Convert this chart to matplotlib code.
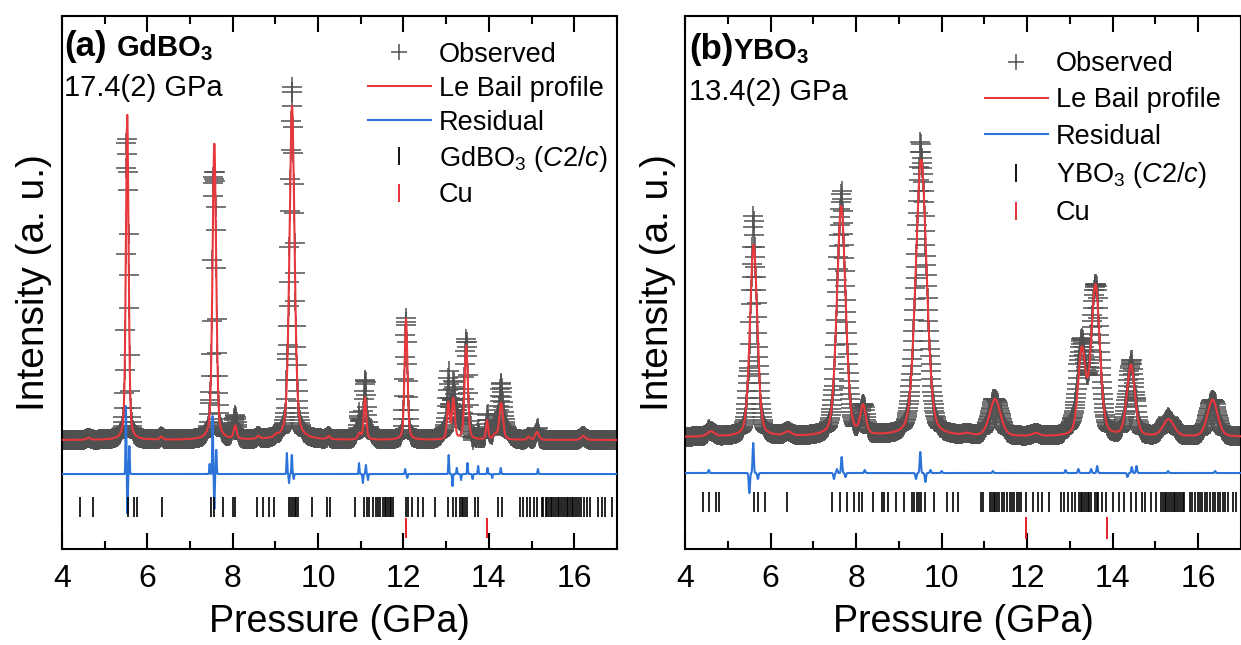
import numpy as np
import matplotlib
matplotlib.use("Agg")
import matplotlib.pyplot as plt
from matplotlib.lines import Line2D
from matplotlib.ticker import MultipleLocator

plt.rcParams['font.family'] = ['Liberation Sans', 'DejaVu Sans']
plt.rcParams['mathtext.fontset'] = 'custom'
plt.rcParams['mathtext.rm'] = 'Liberation Sans'
plt.rcParams['mathtext.it'] = 'Liberation Sans:italic'
plt.rcParams['mathtext.bf'] = 'Liberation Sans:bold'

# scan grid (GPa axis as labelled in the figure)
x_start, x_stop, x_step = 4.0, 17.0, 0.01

# ---- (a) GdBO3, 17.4(2) GPa : Le Bail peaks ----
gd_background = 109
gd_peak_pos = [4.62, 5.53, 6.33, 7.57, 8.06, 8.60, 9.02, 9.39, 10.25, 10.97, 11.10,
               12.06, 13.05, 13.17, 13.47, 13.96, 14.15, 14.29, 14.93, 15.13, 16.21]
gd_peak_height = [2, 325, 3, 296, 13, 3, 2, 334, 3, 6, 42,
                  121, 36, 40, 94, 19, 5, 37, 3, 8, 4]
gd_peak_fwhm = [0.10, 0.075, 0.08, 0.10, 0.08, 0.08, 0.08, 0.14, 0.08, 0.08, 0.07,
                0.08, 0.07, 0.08, 0.09, 0.06, 0.10, 0.10, 0.08, 0.10, 0.12]
# broad intensity in the observed scan that the sharp fitted peaks leave out
gd_hump_pos = [8.05, 11.08, 13.20, 14.28]
gd_hump_height = [10, 16, 18, 15]
gd_hump_fwhm = [0.15, 0.30, 0.45, 0.35]
gd_res_offset = 75
gd_res_pos = [5.50, 5.535, 5.58, 7.46, 7.53, 7.57, 7.615,
              9.27, 9.32, 9.385, 9.43, 10.96, 11.05, 11.12, 11.17, 12.04, 12.09,
              13.06, 13.15, 13.25, 13.35, 13.50, 13.62, 13.75, 13.97, 14.08, 14.28, 15.15]
gd_res_amp = [68, -46, 28, 10, 58, -35, 28,
              21, -9, 22, -5, 11, -9, 9, -6, 5, -4,
              19, -12, 6, -6, 11, -5, 8, 6, -4, 6, 5]
gd_hkl = [4.42, 4.72, 5.54, 5.69, 5.75, 6.34, 7.49, 7.57, 7.78, 8.00, 8.06, 8.58, 8.72,
          8.85, 8.97, 9.33, 9.37, 9.41, 9.45, 9.49, 9.52, 9.85, 10.20, 10.28, 10.86,
          11.08, 11.14, 11.19, 11.29, 11.35, 11.41, 11.46, 11.52, 11.56, 11.60, 11.64,
          11.68, 11.72, 11.76, 12.06, 12.11, 12.19, 12.35, 12.46, 12.74, 13.05, 13.17,
          13.23, 13.32, 13.36, 13.40, 13.44, 13.48, 13.67, 13.75, 14.22, 14.30, 14.74,
          14.81, 14.90, 14.96, 15.06, 15.12, 15.24, 15.28, 15.33, 15.37, 15.41, 15.45,
          15.49, 15.53, 15.57, 15.61, 15.65, 15.70, 15.74, 15.78, 15.82, 15.86, 15.90,
          15.94, 15.98, 16.03, 16.07, 16.12, 16.17, 16.23, 16.30, 16.38, 16.56, 16.64,
          16.72, 16.88]
gd_cu = [12.07, 13.95]

# ---- (b) YBO3, 13.4(2) GPa ----
y_background = 112
y_peak_pos = [4.60, 5.60, 6.40, 7.65, 8.16, 9.52, 10.60, 11.25, 12.20,
              13.28, 13.60, 14.43, 15.31, 16.34]
y_peak_height = [5, 192, 4, 230, 28, 277, 2, 37, 3, 84, 150, 71, 17, 37]
y_peak_fwhm = [0.20, 0.20, 0.20, 0.24, 0.15, 0.30, 0.20, 0.30, 0.20,
               0.20, 0.24, 0.22, 0.30, 0.28]
y_hump_pos = [13.15]
y_hump_height = [12]
y_hump_fwhm = [0.35]
y_res_offset = 76
y_res_pos = [4.55, 5.50, 5.59, 5.70, 7.48, 7.55, 7.66, 7.75, 8.20, 9.40, 9.50, 9.62,
             9.74, 10.00, 11.20, 12.90, 13.20, 13.50, 13.64, 14.35, 14.45, 14.56,
             15.30, 16.40]
y_res_amp = [3, -20, 30, -6, -6, 4, 16, -4, 3, -6, 21, -9,
             3, 2, 2, 3, 4, 4, 7, -4, 6, 7, 2, 2]
y_hkl = [4.42, 4.56, 4.73, 4.79, 5.61, 5.71, 5.86, 6.38, 7.44, 7.63, 7.79, 7.94, 8.07,
         8.14, 8.39, 8.60, 8.65, 8.74, 8.94, 9.13, 9.30, 9.36, 9.42, 9.47, 9.52, 9.60,
         9.82, 10.13, 10.26, 10.39, 10.91, 10.96, 11.12, 11.17, 11.22, 11.26, 11.30,
         11.35, 11.41, 11.47, 11.53, 11.59, 11.64, 11.70, 11.77, 11.82, 11.86, 11.98,
         12.13, 12.25, 12.36, 12.52, 12.79, 12.87, 12.96, 13.04, 13.12, 13.21, 13.25,
         13.29, 13.33, 13.38, 13.42, 13.46, 13.50, 13.58, 13.63, 13.67, 13.75, 13.84,
         14.01, 14.14, 14.26, 14.43, 14.55, 14.68, 14.76, 14.89, 15.01, 15.14, 15.18,
         15.22, 15.26, 15.30, 15.35, 15.39, 15.43, 15.47, 15.51, 15.56, 15.60, 15.64,
         15.68, 15.81, 15.87, 15.93, 15.99, 16.04, 16.10, 16.16, 16.22, 16.28, 16.34,
         16.40, 16.46, 16.52, 16.58, 16.64, 16.69, 16.82, 16.90]
y_cu = [11.98, 13.87]


def pseudo_voigt(x, pos, height, fwhm, eta):
    out = np.zeros_like(x)
    for p, h, w in zip(pos, height, fwhm):
        u = (x - p) / w
        out += h * (eta / (1 + 4 * u**2) + (1 - eta) * np.exp(-4 * np.log(2) * u**2))
    return out


def spikes(x, pos, amp, sigma):
    out = np.zeros_like(x)
    for p, a in zip(pos, amp):
        out += a * np.exp(-0.5 * ((x - p) / sigma)**2)
    return out


x = np.arange(x_start, x_stop + x_step / 2, x_step)

C_OBS = '#505050'
C_CALC = '#e8383d'
C_RES = '#2b73d9'
C_CU = '#e3202a'

fig = plt.figure(figsize=(12.41, 6.45), dpi=100)
ax_a = fig.add_axes([0.0499, 0.1488, 0.4472, 0.8264])
ax_b = fig.add_axes([0.5522, 0.1488, 0.4476, 0.8264])

panels = [
    (ax_a, gd_background, gd_peak_pos, gd_peak_height, gd_peak_fwhm, 0.4,
     (gd_hump_pos, gd_hump_height, gd_hump_fwhm), 0.009,
     gd_res_offset, gd_res_pos, gd_res_amp, gd_hkl, gd_cu, (32, 52), (11, 31),
     '(a)', r'GdBO$_\mathbf{3}$', '17.4(2) GPa', r'GdBO$_3$ ($\mathit{C2/c}$)',
     (0.004, 0.925, 0.0975, 0.85), (0.552, 0.952), 0.30),
    (ax_b, y_background, y_peak_pos, y_peak_height, y_peak_fwhm, 0.3,
     (y_hump_pos, y_hump_height, y_hump_fwhm), 0.014,
     y_res_offset, y_res_pos, y_res_amp, y_hkl, y_cu, (37, 57), (10, 32),
     '(b)', r'YBO$_\mathbf{3}$', '13.4(2) GPa', r'YBO$_3$ ($\mathit{C2/c}$)',
     (0.007, 0.919, 0.0858, 0.842), (0.54, 0.934), 0.38),
]

for (ax, bg, ppos, pht, pw, eta, hump, sig, roff, rpos, ramp, hkl, cu, hkl_y, cu_y,
     tag, name, pres, phase_lbl, txt_pos, leg_pos, lsp) in panels:
    calc = bg + pseudo_voigt(x, ppos, pht, pw, eta)
    diff = spikes(x, rpos, ramp, sig)
    obs = calc + diff + pseudo_voigt(x, hump[0], hump[1], hump[2], 0.0)

    ax.plot(x, obs, ls='none', marker='+', ms=14, mew=1.1, color=C_OBS, zorder=2)
    ax.plot(x, calc, color=C_CALC, lw=1.5, zorder=3)
    ax.plot(x, roff + diff, color=C_RES, lw=1.5, zorder=3)
    ax.vlines(hkl, hkl_y[0], hkl_y[1], colors='k', lw=1.2, zorder=4)
    ax.vlines(cu, cu_y[0], cu_y[1], colors=C_CU, lw=1.4, zorder=4)

    ax.set_xlim(4, 17)
    ax.set_ylim(0, 533)
    ax.set_yticks([])
    ax.xaxis.set_major_locator(MultipleLocator(2))
    ax.xaxis.set_minor_locator(MultipleLocator(1))
    ax.tick_params(axis='x', which='both', direction='in', top=True, bottom=True,
                   labelsize=23, pad=11, width=1.5)
    ax.tick_params(axis='x', which='major', length=11.5)
    ax.tick_params(axis='x', which='minor', length=5.8)
    for s in ax.spines.values():
        s.set_linewidth(1.5)
    ax.set_xlabel('Pressure (GPa)', fontsize=27, labelpad=7)
    ax.set_ylabel('Intensity (a. u.)', fontsize=28, labelpad=7)

    tx, ty, nx, py = txt_pos
    ax.text(tx, ty, tag, transform=ax.transAxes, fontsize=25, fontweight='bold',
            va='baseline')
    ax.text(nx, ty, name, transform=ax.transAxes, fontsize=21, fontweight='bold',
            va='baseline')
    ax.text(tx, py, pres, transform=ax.transAxes, fontsize=21, va='baseline')

    handles = [
        Line2D([], [], ls='none', marker='+', ms=12, mew=1.1, color=C_OBS),
        Line2D([], [], color=C_CALC, lw=1.5),
        Line2D([], [], color=C_RES, lw=1.5),
        Line2D([], [], ls='none', marker='|', ms=13, mew=1.3, color='k'),
        Line2D([], [], ls='none', marker='|', ms=13, mew=1.3, color=C_CU),
    ]
    labels = ['Observed', 'Le Bail profile', 'Residual', phase_lbl, 'Cu']
    ax.legend(handles, labels, loc='upper left', bbox_to_anchor=leg_pos,
              frameon=False, fontsize=19.5, handlelength=2.3, handletextpad=0.3,
              labelspacing=lsp, borderpad=0, borderaxespad=0)

fig.savefig('out.png', dpi=100)
